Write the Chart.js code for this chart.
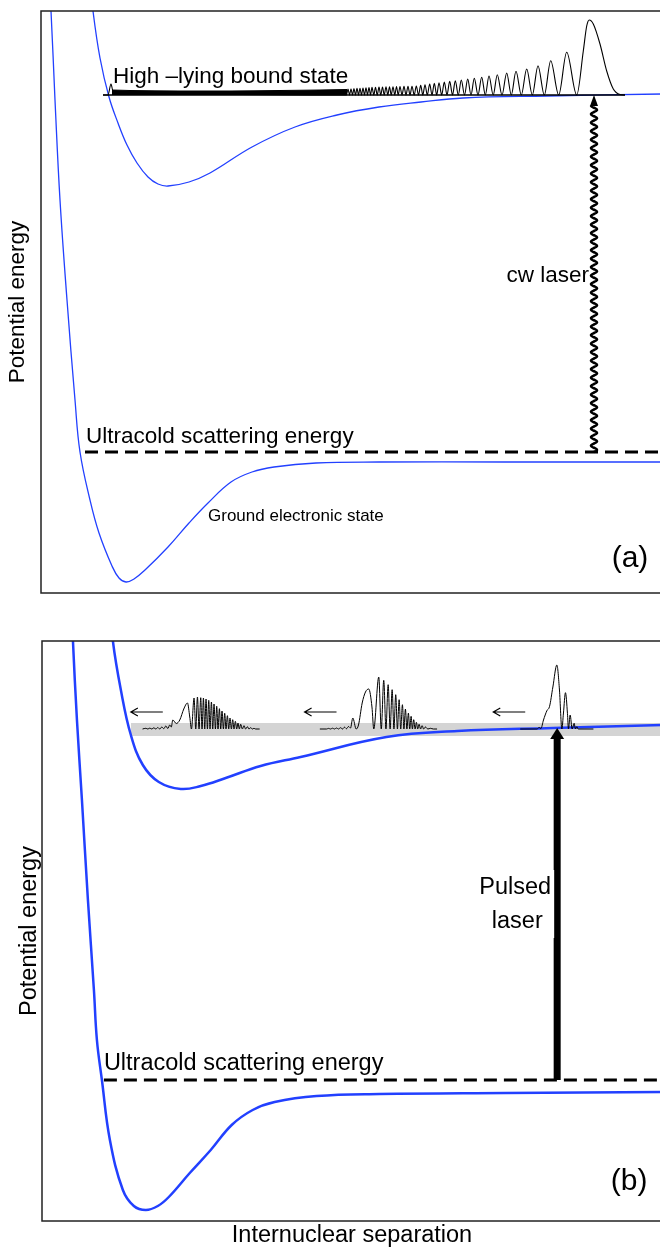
<!DOCTYPE html>
<html>
<head>
<meta charset="utf-8">
<script src="https://cdn.jsdelivr.net/npm/chart.js@4.4.1/dist/chart.umd.min.js"></script>
<style>
  html, body { margin: 0; padding: 0; background: #fff; overflow: hidden; }
  #wrap { width: 700px; }
  canvas { display: block; }
</style>
</head>
<body>
<div id="wrap">
  <canvas id="panelA" width="700" height="620"></canvas>
  <canvas id="panelB" width="700" height="632"></canvas>
</div>
<script>
// r - internuclear separation, E - potential energy (arbitrary units)
const R_MIN = 41, R_MAX = 662;

// ---- panel (a) ----
const groundA_r = [49.5, 51, 55, 60, 67, 75, 80, 90, 99, 112, 119, 126, 134, 145, 168, 189, 208, 231, 252, 274, 316, 379, 505, 662];
const groundA_E = [600, 582, 493, 393, 293, 193, 141, 93, 60, 27, 15, 11, 14, 23, 46, 70, 90, 111, 121, 126, 130, 131, 131, 131];
const excitedA_r = [91.8, 93, 100, 109, 118, 127, 137, 148, 158, 168, 189, 210, 252, 295, 337, 379, 421, 463, 547, 662];
const excitedA_E = [600, 582, 535, 496, 470, 448, 430, 416, 409, 407, 411, 420, 446, 466, 478, 486, 491, 495, 497, 499];

const boundA_E = 498;      // high-lying bound level
const scatterA_E = 141;    // ultracold scattering energy
const laserA_r = 594;
const levelA_r = [103, 625];

// |psi|^2 of the bound state, height above the level
const waveA_r = [103, 108, 111, 113,
  346.5, 348, 349.5, 351, 352.5, 354, 355.5, 357, 358.5, 360, 361.5, 363, 364.5, 366, 367.5, 369, 370.5, 372, 373.8, 375.5,
  377.2, 379, 380.8, 382.5, 384.2, 386, 387.8, 389.5, 391.2, 393, 394.8, 396.5, 398.2, 400, 402, 404, 406, 408, 410, 412,
  414.2, 416.3, 418.5, 420.7, 422.8, 425, 427.3, 429.7, 432, 434.3, 436.7, 439, 441.7, 444.3, 447, 449.7, 452.5, 455.3,
  458.3, 461.3, 464.5, 467.7, 471, 474.3, 478, 481.7, 485.3, 489, 493.2, 497.3, 502, 506.7, 511.3, 516, 521.3, 526.7,
  532.3, 538, 544.3, 550.7, 558.7, 566.7, 576.7, 583.3, 586.7, 589.3, 593.3, 600, 606.7, 613.3, 620, 625];
const waveA_h = [0, 0, 11, 4,
  0, 6.0, 0, 6.2, 0, 6.4, 0, 6.6, 0, 6.8, 0, 7.0, 0, 7.2, 0, 7.4, 0, 7.6, 0, 7.8,
  0, 7.9, 0, 8.0, 0, 8.1, 0, 8.2, 0, 8.3, 0, 8.4, 0, 8.5, 0, 8.6, 0, 8.7, 0, 8.8,
  0, 9.0, 0, 9.7, 0, 10.3, 0, 11.0, 0, 11.7, 0, 12.3, 0, 13.0, 0, 13.7, 0, 14.3,
  0, 15.0, 0, 16.0, 0, 16.7, 0, 17.7, 0, 19.0, 0, 20.3, 0, 22.0, 0, 23.7, 0, 26.0,
  0, 29.3, 0, 34.3, 0, 42.7, 0, 44, 69, 75, 71, 51, 24, 6, 0.5, 0];
// unresolved fast oscillations near the inner turning point (envelope)
const denseA_r = [112, 130, 180, 230, 280, 320, 347];
const denseA_h = [5, 4.5, 4, 4, 4.5, 5, 5.5];

// ---- panel (b) ----
const groundB_r = [71.5, 72, 76, 81, 87, 93, 96, 101, 109, 122, 133, 145, 157, 168, 189, 210, 231, 252, 274, 316, 379, 505, 662];
const groundB_E = [600, 580, 501, 421, 321, 231, 181, 141, 81, 31, 15, 11, 15, 24, 48, 71, 96, 111, 119, 125, 127, 128, 129];
const excitedB_r = [111.5, 112, 120, 130, 142, 158, 180, 200, 225, 260, 300, 386, 457, 553, 662];
const excitedB_E = [600, 580, 531, 486, 456, 439, 432, 435, 443, 455, 464, 484, 490, 493, 496];

const scatterB_E = 141;
const packetB_E = 492;
const bandB_E = [485, 498];
const bandB_r = [130, 662];
const laserB_r = 557;
const moveArrowB_r = [130, 304, 493];

const packet1_r = [141.7, 145, 147, 149, 151, 153, 155, 157, 159, 161, 163, 165, 167, 169, 170.5, 172, 175.5, 179, 183, 186.7, 189, 190.7,
  193.3, 195, 196.7, 198.3, 200, 201.3, 202.7, 204, 205.3, 206.7, 208, 209.3, 210.7, 212, 213.3, 214.7, 216, 217.3, 218.7, 220,
  221.3, 222.7, 224, 225.3, 226.7, 228, 229.3, 230.7, 232, 233.3, 234.7, 236, 237.3, 238.7, 240, 241.7, 243.3, 245, 246.7, 248.3,
  250, 251.7, 253.3, 255, 259];
const packet1_h = [0, 0.7, 0, 0.9, 0, 1.2, 0, 1.5, 0, 2, 0.3, 3, 0.5, 4, 2, 9, 5.5, 9, 20, 26, 12, 0,
  31, 0, 32, 0, 31.3, 0, 31, 0, 30, 0, 28.7, 0, 27, 0, 25, 0, 22.7, 0, 20.3, 0,
  18, 0, 15.7, 0, 13.3, 0, 11, 0, 9.3, 0, 7.7, 0, 6, 0, 4.7, 0, 3.3, 0, 2.3, 0,
  1.3, 0, 0.7, 0, 0];
const packet2_r = [319.3, 326, 328, 330, 332, 334, 336, 338, 340, 342, 344, 346, 348, 350, 352.3, 355.7, 358, 361.7, 365, 368.3, 371.5, 373.3,
  378.3, 380.8, 383.3, 385.5, 387.7, 389.7, 391.7, 393.5, 395.3, 397, 398.7, 400.3, 402, 403.5, 405, 406.5, 408, 409.3,
  410.7, 412, 413.3, 414.7, 416, 417.3, 418.7, 420.2, 421.7, 423.3, 425, 427.5, 430, 433, 436.7];
const packet2_h = [0, 0, 0.6, 0, 0.8, 0, 1, 0, 1.3, 0, 1.8, 0.3, 2.5, 1, 11, 0, 4, 26, 37, 40, 22, 0,
  52, 0, 48.7, 0, 44.3, 0, 39.3, 0, 34.3, 0, 29.3, 0, 24.3, 0, 20, 0, 16, 0,
  12.7, 0, 9.3, 0, 6.7, 0, 4.7, 0, 3.3, 0, 2, 0, 0.7, 0, 0];
const packet3_r = [520, 536.7, 539, 540.7, 543.3, 546.7, 549.3, 552.7, 556.7, 559.3, 561.7, 563.3, 565.3, 567.3, 568.3, 570, 572, 574, 575.3, 576.7, 578, 593.3];
const packet3_h = [0, 0, 1.5, 0.5, 9, 18.3, 22.3, 42, 64, 39, 0, 16, 36.3, 15.7, 0, 14, 0, 5.7, 0, 2.3, 0, 0];

const BLUE = 'rgb(34, 64, 255)';
const FONT = "'Liberation Sans', Arial, Helvetica, sans-serif";
const SMOOTH = { cubicInterpolationMode: 'default', tension: 0.4 };

function points(rs, es, base) {
    return rs.map((r, i) => ({ x: r, y: (base || 0) + (Array.isArray(es) ? es[i] : es) }));
}

function curve(data, color, width, order, extra) {
    return Object.assign({
        data: data,
        borderColor: color,
        borderWidth: width,
        pointRadius: 0,
        fill: false,
        cubicInterpolationMode: 'monotone',
        order: order,
    }, extra || {});
}

// arrows, labels and frame
const figurePlugin = {
    id: 'figure',
    afterDatasetsDraw(chart, args, opts) {
        const { ctx, chartArea: a, scales: { x, y } } = chart;
        ctx.save();
        ctx.fillStyle = '#000';
        ctx.strokeStyle = '#000';

        if (opts.wavy) {
            const xp = x.getPixelForValue(opts.wavy.r);
            const y0 = y.getPixelForValue(opts.wavy.from);
            const yTip = y.getPixelForValue(opts.wavy.to);
            const headLen = 11, headHalf = 4;
            ctx.lineWidth = 2.5;
            ctx.beginPath();
            for (let yy = y0; yy >= yTip + headLen - 1; yy -= 0.5) {
                const xx = xp + 3 * Math.sin((y0 - yy) / 8.5 * 2 * Math.PI);
                if (yy === y0) ctx.moveTo(xx, yy); else ctx.lineTo(xx, yy);
            }
            ctx.stroke();
            ctx.beginPath();
            ctx.moveTo(xp, yTip);
            ctx.lineTo(xp - headHalf, yTip + headLen);
            ctx.lineTo(xp + headHalf, yTip + headLen);
            ctx.closePath();
            ctx.fill();
        }

        if (opts.pulse) {
            const xp = x.getPixelForValue(opts.pulse.r);
            const y0 = y.getPixelForValue(opts.pulse.from);
            const yTip = y.getPixelForValue(opts.pulse.to);
            ctx.fillRect(xp - 3.5, yTip + 9, 7, y0 - yTip - 9);
            ctx.beginPath();
            ctx.moveTo(xp, yTip);
            ctx.lineTo(xp - 7, yTip + 11);
            ctx.lineTo(xp + 7, yTip + 11);
            ctx.closePath();
            ctx.fill();
        }

        (opts.moveArrows || []).forEach(m => {
            const xt = x.getPixelForValue(m.r);
            const xe = x.getPixelForValue(m.r + m.len);
            const yp = y.getPixelForValue(m.E);
            ctx.lineWidth = 1.2;
            ctx.beginPath();
            ctx.moveTo(xe, yp);
            ctx.lineTo(xt, yp);
            ctx.moveTo(xt + 7, yp - 4);
            ctx.lineTo(xt, yp);
            ctx.lineTo(xt + 7, yp + 4);
            ctx.stroke();
        });

        (opts.boxes || []).forEach(b => {
            const x1 = x.getPixelForValue(b.r[0]), x2 = x.getPixelForValue(b.r[1]);
            const y1 = y.getPixelForValue(b.E[1]), y2 = y.getPixelForValue(b.E[0]);
            ctx.fillStyle = '#fff';
            ctx.fillRect(x1, y1, x2 - x1, y2 - y1);
        });

        ctx.fillStyle = '#000';
        ctx.textBaseline = 'alphabetic';
        (opts.texts || []).forEach(t => {
            ctx.font = t.size + 'px ' + FONT;
            ctx.textAlign = t.align || 'left';
            ctx.fillText(t.text, x.getPixelForValue(t.r), y.getPixelForValue(t.E));
        });

        if (opts.yTitle) {
            ctx.save();
            ctx.font = opts.yTitle.size + 'px ' + FONT;
            ctx.textAlign = 'center';
            ctx.textBaseline = 'middle';
            ctx.translate(a.left + opts.yTitle.dx, (a.top + a.bottom) / 2);
            ctx.rotate(-Math.PI / 2);
            ctx.fillText(opts.yTitle.text, 0, 0);
            ctx.restore();
        }
        if (opts.xTitle) {
            ctx.font = opts.xTitle.size + 'px ' + FONT;
            ctx.textAlign = 'center';
            ctx.fillText(opts.xTitle.text, (a.left + a.right) / 2, a.bottom + opts.xTitle.dy);
        }

        ctx.strokeStyle = '#222';
        ctx.lineWidth = 1.5;
        ctx.strokeRect(a.left, a.top, a.right - a.left, a.bottom - a.top);
        ctx.restore();
    }
};

function baseOptions(eMax, padding, fig) {
    return {
        responsive: false,
        animation: false,
        events: [],
        layout: { padding: padding },
        scales: {
            x: { type: 'linear', min: R_MIN, max: R_MAX, display: false },
            y: { type: 'linear', min: 0, max: eMax, display: false },
        },
        plugins: {
            legend: { display: false },
            tooltip: { enabled: false },
            figure: fig,
        },
    };
}

// Панель (a)
new Chart(document.getElementById('panelA'), {
    type: 'line',
    data: {
        datasets: [
            curve(points(waveA_r, waveA_h, boundA_E), '#000', 1.1, 0),
            curve(points(denseA_r, denseA_h, boundA_E), '#000', 1, 1,
                { fill: { value: boundA_E }, backgroundColor: '#000' }),
            curve(points(levelA_r, [0, 0], boundA_E), '#000', 1.5, 2),
            curve(points([85, 662], [0, 0], scatterA_E), '#000', 3, 3, { borderDash: [13, 7] }),
            curve(points(groundA_r, groundA_E), BLUE, 1.3, 4, SMOOTH),
            curve(points(excitedA_r, excitedA_E), BLUE, 1.3, 5, SMOOTH),
        ]
    },
    options: baseOptions(582, { left: 41, top: 11, right: 38, bottom: 27 }, {
        yTitle: { text: 'Potential energy', dx: -23, size: 22.5 },
        wavy: { r: laserA_r, from: scatterA_E, to: boundA_E },
        texts: [
            { text: 'High \u2013lying bound state', r: 113, E: 510, size: 22.5 },
            { text: 'Ultracold scattering energy', r: 86, E: 150, size: 22.5 },
            { text: 'cw laser', r: 589, E: 311, size: 22.5, align: 'right' },
            { text: 'Ground electronic state', r: 208, E: 72, size: 17 },
            { text: '(a)', r: 630, E: 26, size: 30, align: 'center' },
        ],
    }),
    plugins: [figurePlugin],
});

// Панель (b)
new Chart(document.getElementById('panelB'), {
    type: 'line',
    data: {
        datasets: [
            curve(points(packet1_r, packet1_h, packetB_E), '#000', 1, 0),
            curve(points(packet2_r, packet2_h, packetB_E), '#000', 1, 0),
            curve(points(packet3_r, packet3_h, packetB_E), '#000', 1, 0),
            curve(points([103, 662], [0, 0], scatterB_E), '#000', 3, 3, { borderDash: [13, 7] }),
            curve(points(groundB_r, groundB_E), BLUE, 2.5, 4, SMOOTH),
            curve(points(excitedB_r, excitedB_E), BLUE, 2.5, 5, SMOOTH),
            curve(points(bandB_r, [bandB_E[1], bandB_E[1]]), 'rgba(0,0,0,0)', 0, 10,
                { fill: { value: bandB_E[0] }, backgroundColor: '#d4d4d4' }),
        ]
    },
    options: baseOptions(580, { left: 42, top: 21, right: 38, bottom: 31 }, {
        yTitle: { text: 'Potential energy', dx: -12, size: 23.5 },
        xTitle: { text: 'Internuclear separation', dy: 21, size: 23.5 },
        pulse: { r: laserB_r, from: scatterB_E, to: packetB_E + 1 },
        moveArrows: moveArrowB_r.map(r => ({ r: r, len: 32, E: 509 })),
        boxes: [{ r: [476, 554], E: [283, 351] }],
        texts: [
            { text: 'Ultracold scattering energy', r: 103, E: 151, size: 23.5 },
            { text: 'Pulsed', r: 515, E: 327, size: 23.5, align: 'center' },
            { text: 'laser', r: 517, E: 293, size: 23.5, align: 'center' },
            { text: '(b)', r: 629, E: 31, size: 30, align: 'center' },
        ],
    }),
    plugins: [figurePlugin],
});
</script>
</body>
</html>
